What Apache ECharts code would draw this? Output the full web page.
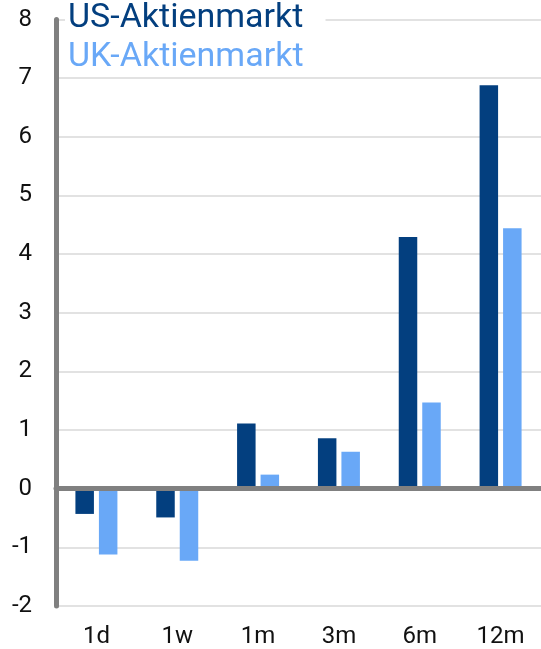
<!DOCTYPE html>
<html>
<head>
<meta charset="utf-8">
<style>
  html, body { margin: 0; padding: 0; background: #fff; }
  #chart { width: 541px; height: 649px; }
</style>
<script src="https://cdn.jsdelivr.net/npm/echarts@6/dist/echarts.min.js"></script>
</head>
<body>
<div id="chart"></div>
<script>
// Performance by period, in percent
const categories = ['1d', '1w', '1m', '3m', '6m', '12m'];
const usMarket = [-0.43, -0.49, 1.11, 0.86, 4.29, 6.88];
const ukMarket = [-1.12, -1.23, 0.24, 0.63, 1.47, 4.44];
const seriesNames = ['US-Aktienmarkt', 'UK-Aktienmarkt'];

const darkBlue = '#033f7f';
const lightBlue = '#69a8f7';
const fontFamily = 'Roboto, "Liberation Sans", sans-serif';

const chart = echarts.init(document.getElementById('chart'), null, { renderer: 'canvas' });

chart.setOption({
  animation: false,
  backgroundColor: '#ffffff',
  grid: { left: 56, top: 19.5, width: 492, height: 586.5, containLabel: false },
  legend: {
    orient: 'vertical',
    left: 65,
    top: 1.5,
    padding: [0, 22, 0, 3],
    itemGap: 5,
    itemWidth: 0,
    itemHeight: 0,
    icon: 'none',
    backgroundColor: '#ffffff',
    selectedMode: false,
    textStyle: { fontSize: 34, lineHeight: 34, fontFamily: fontFamily, padding: [0, 0, 0, -5] },
    data: [
      { name: seriesNames[0], textStyle: { color: darkBlue } },
      { name: seriesNames[1], textStyle: { color: lightBlue } }
    ]
  },
  xAxis: {
    type: 'category',
    data: categories,
    axisLine: { onZero: true, lineStyle: { color: '#808080', width: 5 } },
    axisTick: { show: false },
    axisLabel: { color: '#111', fontSize: 24, fontFamily: fontFamily, margin: 19 },
    z: 5
  },
  yAxis: {
    type: 'value',
    min: -2,
    max: 8,
    interval: 1,
    axisLine: { show: true, lineStyle: { color: '#808080', width: 5 } },
    axisTick: { show: false },
    axisLabel: { color: '#111', fontSize: 24, fontFamily: fontFamily, margin: 24 },
    splitLine: { lineStyle: { color: '#d9d9d9', width: 1.5 } }
  },
  series: [
    {
      name: seriesNames[0],
      type: 'bar',
      data: usMarket,
      barWidth: 18.5,
      barGap: '27%',
      itemStyle: { color: darkBlue }
    },
    {
      name: seriesNames[1],
      type: 'bar',
      data: ukMarket,
      barWidth: 18.5,
      itemStyle: { color: lightBlue }
    }
  ]
});
</script>
</body>
</html>
